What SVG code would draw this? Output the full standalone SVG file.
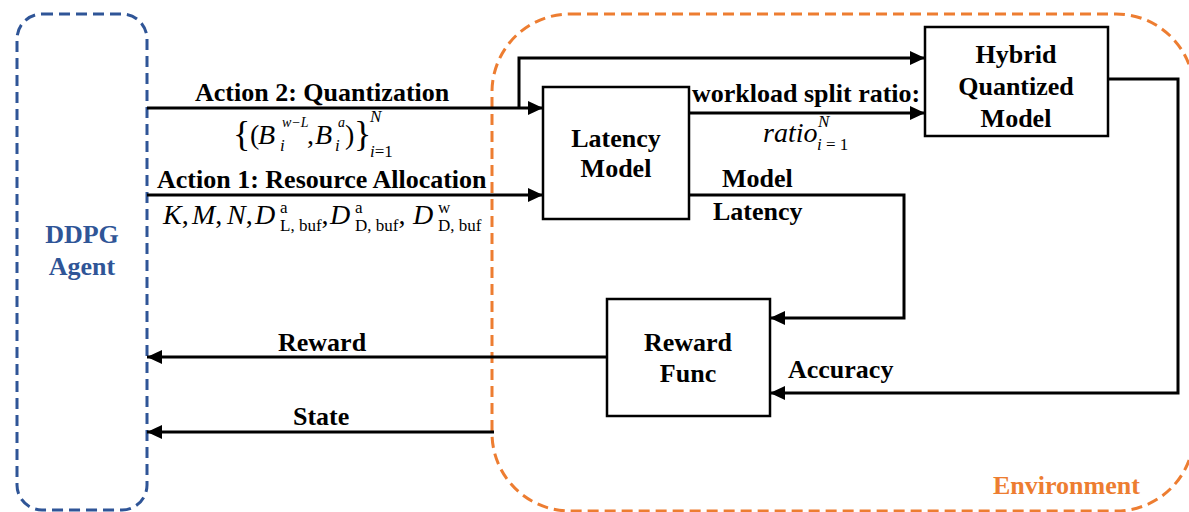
<svg xmlns="http://www.w3.org/2000/svg" width="1189" height="512" viewBox="0 0 1189 512">
<style>
.t{font-family:"Liberation Serif","Times New Roman",serif;font-weight:bold;font-size:26px;fill:#000}
.c{text-anchor:middle}
.m{font-family:"Liberation Serif","Times New Roman",serif;font-size:28px;fill:#000}
.i{font-style:italic}
.s{font-size:17px}
.ss{font-size:14px}
.br{font-size:36px}
.box{fill:#fff;stroke:#000;stroke-width:2.5}
.ln{fill:none;stroke:#000;stroke-width:3}
.ar{marker-end:url(#ah)}
</style>
<defs>
<marker id="ah" markerUnits="userSpaceOnUse" markerWidth="16" markerHeight="14" refX="15" refY="7" orient="auto">
<path d="M0,0 L15,7 L0,14 z" fill="#000"/>
</marker>
</defs>
<rect width="1189" height="512" fill="#fff"/>
<g id="agent">
<rect x="17" y="14" width="130" height="496" rx="25" fill="none" stroke="#2F5597" stroke-width="3" stroke-dasharray="11,6"/>
<text class="t c" x="82" y="243" style="fill:#2F5597">DDPG</text>
<text class="t c" x="82" y="275" style="fill:#2F5597">Agent</text>
</g>
<g id="environment">
<rect x="492" y="14" width="702" height="497" rx="78" fill="none" stroke="#ED7D31" stroke-width="3" stroke-dasharray="11,6"/>
<text class="t" x="993" y="494" style="fill:#ED7D31">Environment</text>
</g>
<g id="latency-model">
<rect class="box" x="543" y="87" width="146" height="132"/>
<text class="t c" x="616" y="147">Latency</text>
<text class="t c" x="616" y="177">Model</text>
</g>
<g id="hybrid-model">
<rect class="box" x="925" y="27" width="183" height="109"/>
<text class="t c" x="1016" y="63">Hybrid</text>
<text class="t c" x="1016" y="95">Quantized</text>
<text class="t c" x="1016" y="127">Model</text>
</g>
<g id="reward-func">
<rect class="box" x="607" y="299" width="163" height="117"/>
<text class="t c" x="688" y="351">Reward</text>
<text class="t c" x="688" y="382">Func</text>
</g>
<g id="connectors">
<path class="ln ar" d="M147,108 H543"/>
<path class="ln ar" d="M519,108 V58 H925"/>
<path class="ln ar" d="M147,195 H543"/>
<path class="ln ar" d="M689,113 H925"/>
<path class="ln ar" d="M689,195 H904 V318 H770"/>
<path class="ln ar" d="M1108,79 H1178 V393 H770"/>
<path class="ln ar" d="M607,357 H147"/>
<path class="ln ar" d="M494,432 H147"/>
</g>
<g id="labels">
<text class="t" x="195" y="101">Action 2: Quantization</text>
<text class="t" x="157" y="188">Action 1: Resource Allocation</text>
<text class="t" x="692" y="102">workload split ratio:</text>
<text class="t" x="722" y="187">Model</text>
<text class="t" x="713" y="220">Latency</text>
<text class="t" x="278" y="351">Reward</text>
<text class="t" x="293" y="425">State</text>
<text class="t" x="788" y="378">Accuracy</text>
<text class="m"><tspan class="br" x="233" y="146">{</tspan><tspan x="250" y="144">(</tspan><tspan class="i" x="258" y="144">B</tspan><tspan class="i ss" x="282" y="127">w−L</tspan><tspan class="i s" x="280" y="151">i</tspan><tspan x="307" y="144">,</tspan><tspan class="i" x="315" y="144">B</tspan><tspan class="i ss" x="338" y="127">a</tspan><tspan class="i s" x="335" y="151">i</tspan><tspan x="345" y="144">)</tspan><tspan class="br" x="354" y="146">}</tspan><tspan class="i s" x="370" y="122">N</tspan><tspan class="s" x="370" y="157"><tspan class="i">i</tspan>=1</tspan></text>
<text class="m"><tspan class="i" x="163" y="224">K</tspan><tspan y="224">,</tspan><tspan class="i" x="192" y="224">M</tspan><tspan y="224">,</tspan><tspan class="i" x="227" y="224">N</tspan><tspan y="224">,</tspan><tspan class="i" x="255" y="224">D</tspan><tspan class="s" x="280" y="213">a</tspan><tspan class="s" x="280" y="231">L, buf</tspan><tspan y="224">,</tspan><tspan class="i" x="330" y="224">D</tspan><tspan class="s" x="355" y="213">a</tspan><tspan class="s" x="355" y="231">D, buf</tspan><tspan y="224">,</tspan><tspan class="i" x="413" y="224">D</tspan><tspan class="s" x="438" y="213">w</tspan><tspan class="s" x="438" y="231">D, buf</tspan></text>
<text class="m"><tspan class="i" x="763" y="142">ratio</tspan><tspan class="i s" x="818" y="127">N</tspan><tspan class="s" x="817" y="150"><tspan class="i">i</tspan> = 1</tspan></text>
</g>
</svg>
